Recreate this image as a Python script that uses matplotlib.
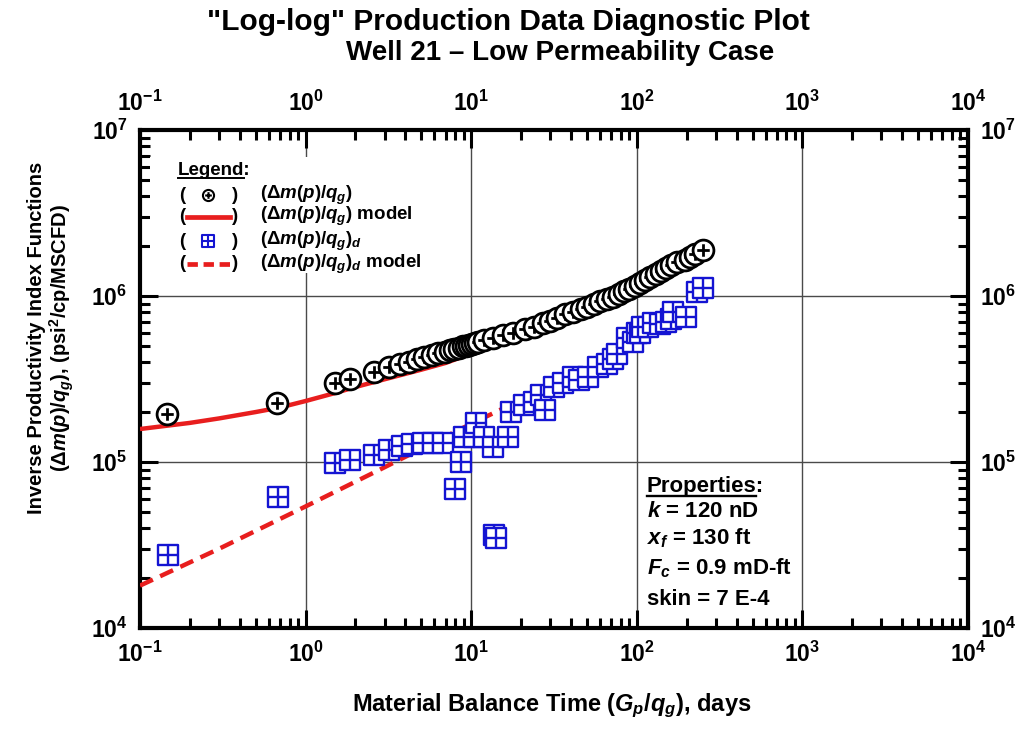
import numpy as np
import matplotlib
matplotlib.use("Agg")
import matplotlib.pyplot as plt
from matplotlib.path import Path
from matplotlib.lines import Line2D
from matplotlib.ticker import FuncFormatter, LogLocator, NullFormatter

plt.rcParams['font.family'] = ['Liberation Sans', 'DejaVu Sans']
plt.rcParams['font.weight'] = 'bold'
plt.rcParams['mathtext.fontset'] = 'custom'
plt.rcParams['mathtext.rm'] = 'Liberation Sans:bold'
plt.rcParams['mathtext.it'] = 'Liberation Sans:bold:italic'
plt.rcParams['mathtext.bf'] = 'Liberation Sans:bold'

# --- data ---
# inverse productivity index (dm(p)/qg), black circles
pi_t = [0.145, 0.675, 1.50, 1.85, 2.6, 3.2, 3.7, 4.2, 4.7, 5.2, 5.8, 6.3, 6.9, 7.4,
        7.9, 8.4, 8.9, 9.3, 9.7, 10.1, 10.5, 11.0, 12.0, 13.5, 15.5, 17.8, 21, 24,
        27, 30, 33, 37, 41, 46, 50, 55, 60, 66, 72, 78, 84, 90, 97, 104, 112, 120,
        130, 140, 150, 162, 175, 195, 210, 225, 251]
pi_val = [1.95e5, 2.27e5, 3.0e5, 3.16e5, 3.48e5, 3.73e5, 3.88e5, 4.03e5, 4.15e5,
          4.27e5, 4.41e5, 4.51e5, 4.62e5, 4.72e5, 4.81e5, 4.89e5, 4.97e5, 5.03e5,
          5.09e5, 5.15e5, 5.21e5, 5.28e5, 5.41e5, 5.6e5, 5.83e5, 6.0e5, 6.3e5,
          6.55e5, 6.85e5, 7.1e5, 7.4e5, 7.8e5, 8.0e5, 8.4e5, 8.6e5, 8.9e5, 9.3e5,
          9.6e5, 9.9e5, 1.03e6, 1.07e6, 1.10e6, 1.15e6, 1.20e6, 1.25e6, 1.30e6,
          1.36e6, 1.42e6, 1.48e6, 1.54e6, 1.60e6, 1.65e6, 1.72e6, 1.78e6, 1.89e6]

# derivative (dm(p)/qg)_d, blue squares
pid_t = [0.147, 0.684, 1.50, 1.85, 2.58, 3.17, 3.80, 4.37, 5.14, 5.9, 6.8, 8.0, 8.7,
         9.1, 10.4, 10.7, 12.0, 13.6, 13.7, 14.2, 16.6, 17.4, 20.8, 24.0, 26.3, 28.0,
         31.7, 35.6, 41.4, 45, 50.5, 58.5, 66, 72, 76, 87, 95, 100, 105, 108, 117,
         125, 138, 150, 160, 165, 197, 230, 251]
pid_val = [2.75e4, 6.15e4, 9.9e4, 1.03e5, 1.10e5, 1.18e5, 1.25e5, 1.28e5, 1.30e5,
           1.30e5, 1.30e5, 6.9e4, 1.0e5, 1.42e5, 1.42e5, 1.72e5, 1.42e5, 1.23e5,
           3.63e4, 3.5e4, 1.42e5, 2.0e5, 2.2e5, 2.3e5, 2.54e5, 2.06e5, 2.83e5,
           3.0e5, 3.27e5, 3.1e5, 3.27e5, 3.72e5, 3.9e5, 4.2e5, 4.5e5, 5.6e5, 5.3e5,
           6.0e5, 5.98e5, 6.5e5, 6.5e5, 6.9e5, 6.8e5, 7.0e5, 7.3e5, 8.0e5, 7.5e5,
           1.06e6, 1.12e6]

# models
mod_t = [0.1, 0.2, 0.3, 0.5, 0.7, 1, 1.5, 2, 3, 5, 7, 10, 12]
mod_val = [1.58e5, 1.72e5, 1.83e5, 2.0e5, 2.13e5, 2.33e5, 2.6e5, 2.83e5, 3.15e5,
           3.6e5, 3.95e5, 4.5e5, 4.75e5]
modd_t = [0.1, 0.3, 1, 3, 10, 18]
modd_val = [1.8e4, 3.0e4, 5.4e4, 9.3e4, 1.7e5, 2.25e5]

props = ["$k$ = 120 nD", "$x_f$ = 130 ft", "$F_c$ = 0.9 mD-ft", "skin = 7 E-4"]
leg_labels = [r"$(\Delta m(p)/q_g)$", r"$(\Delta m(p)/q_g)$ model",
              r"$(\Delta m(p)/q_g)_d$", r"$(\Delta m(p)/q_g)_d$ model"]

RED = '#e81e1e'
BLUE = '#1414d2'

# markers: circle with plus, square with cross
M, L = Path.MOVETO, Path.LINETO
cross_c = Path([[-0.6, 0], [0.6, 0], [0, -0.6], [0, 0.6]], [M, L, M, L])
circ_plus = Path.make_compound_path(Path.unit_circle(), cross_c)
sq = Path([[-1, -1], [1, -1], [1, 1], [-1, 1], [-1, -1]],
          [M, L, L, L, Path.CLOSEPOLY])
cross_s = Path([[-1, 0], [1, 0], [0, -1], [0, 1]], [M, L, M, L])
sq_plus = Path.make_compound_path(sq, cross_s)

fig = plt.figure(figsize=(10.17, 7.29), dpi=100)
ax = fig.add_axes([140/1017, 1-628/729, 828/1017, 498/729])
ax.set_xscale('log')
ax.set_yscale('log')
ax.set_xlim(0.1, 1e4)
ax.set_ylim(1e4, 1e7)

ax.plot(mod_t, mod_val, color=RED, lw=3.2, zorder=3, solid_capstyle='butt')
ax.plot(modd_t, modd_val, color=RED, lw=3.2, ls=(0, (3.2, 1.8)), zorder=3)
ax.plot(pi_t, pi_val, ls='none', marker=circ_plus, ms=15, mfc='white',
        mec='black', mew=2.0, zorder=4)
ax.plot(pid_t, pid_val, ls='none', marker=sq_plus, ms=14, mfc='white',
        mec=BLUE, mew=1.7, zorder=4)

# axes styling
fmt = FuncFormatter(lambda v, p: r'$10^{%d}$' % round(np.log10(v)))
for axis in (ax.xaxis, ax.yaxis):
    axis.set_major_locator(LogLocator(base=10, numticks=10))
    axis.set_minor_locator(LogLocator(base=10, subs=np.arange(2, 10), numticks=10))
    axis.set_major_formatter(fmt)
    axis.set_minor_formatter(NullFormatter())
ax.tick_params(which='both', direction='in', top=True, right=True,
               labeltop=True, labelright=True, width=2.2, labelsize=16.5)
ax.tick_params(which='major', length=13, pad=10)
ax.tick_params(which='minor', length=7)
ax.tick_params(axis='y', which='major', pad=9)
for s in ax.spines.values():
    s.set_linewidth(3)
ax.grid(True, which='major', color='#4a4a4a', lw=1)
ax.set_axisbelow(True)

# legend block (white background, hand drawn)
ax.add_patch(plt.Rectangle((0.012, 0.713), 0.37, 0.232, transform=ax.transAxes,
                           facecolor='white', edgecolor='none', zorder=2))
leg_y = [0.869, 0.826, 0.777, 0.731]
leg_fs = 13.5
leg_head = ax.text(0.046, 0.918, "Legend:", transform=ax.transAxes, fontsize=leg_fs,
                   va='center', ha='left', zorder=5)
for i, lab in enumerate(leg_labels):
    y = leg_y[i]
    ax.text(0.051, y, "(", transform=ax.transAxes, fontsize=leg_fs, ha='center',
            va='center', zorder=5)
    ax.text(0.115, y, ")", transform=ax.transAxes, fontsize=leg_fs, ha='center',
            va='center', zorder=5)
    ax.text(0.145, y, lab, transform=ax.transAxes, fontsize=leg_fs, ha='left',
            va='center', zorder=5)
ax.plot([0.082], [leg_y[0]], transform=ax.transAxes, marker=circ_plus, ms=8,
        mfc='white', mec='black', mew=1.5, ls='none', zorder=5)
ax.plot([0.057, 0.109], [leg_y[1]] * 2, transform=ax.transAxes, color=RED, lw=3.4,
        zorder=5)
ax.plot([0.082], [leg_y[2]], transform=ax.transAxes, marker=sq_plus, ms=8,
        mfc='white', mec=BLUE, mew=1.5, ls='none', zorder=5)
ax.plot([0.057, 0.109], [leg_y[3]] * 2, transform=ax.transAxes, color=RED, lw=3.4,
        ls=(0, (2.2, 1.2)), zorder=5)

# properties block
prop_fs = 16
prop_head = ax.text(0.612, 0.273, "Properties:", transform=ax.transAxes,
                    fontsize=prop_fs, ha='left', va='baseline', zorder=5)
prop_base = [0.223, 0.167, 0.108, 0.046]
for txt, yb in zip(props, prop_base):
    ax.text(0.612, yb, txt, transform=ax.transAxes, fontsize=prop_fs, ha='left',
            va='baseline', zorder=5)

# underline the two headings (word only, not the colon)
fig.canvas.draw()
rend = fig.canvas.get_renderer()
inv = ax.transAxes.inverted()
for t, word, lw in ((leg_head, "Legend", 1.4), (prop_head, "Properties", 1.7)):
    tmp = ax.text(*t.get_position(), word, transform=ax.transAxes,
                  fontsize=t.get_fontsize(), ha='left', va=t.get_va())
    bb = tmp.get_window_extent(rend)
    tmp.remove()
    full = t.get_window_extent(rend)
    (x0, y0), (x1, y1) = inv.transform([[bb.x0, full.y0], [bb.x1, full.y1]])
    ax.add_line(Line2D([x0, x1], [y0 + 0.003, y0 + 0.003], transform=ax.transAxes,
                       color='black', lw=lw, zorder=5))

# titles and axis labels
fig.text(508/1017, 1-22/729, '"Log-log" Production Data Diagnostic Plot',
         fontsize=21.5, ha='center', va='center')
fig.text(560/1017, 1-53/729, 'Well 21 \u2013 Low Permeability Case',
         fontsize=20, ha='center', va='center')
fig.text(552/1017, 1-706/729, r"Material Balance Time ($G_p/q_g$), days",
         fontsize=17, ha='center', va='center')
fig.text(37/1017, 1-338/729, "Inverse Productivity Index Functions",
         fontsize=14.5, ha='center', va='center', rotation=90)
fig.text(62/1017, 1-338/729, r"$(\Delta m(p)/q_g)$, (psi$^2$/cp/MSCFD)",
         fontsize=14.5, ha='center', va='center', rotation=90)

fig.savefig("out.png", dpi=100)
